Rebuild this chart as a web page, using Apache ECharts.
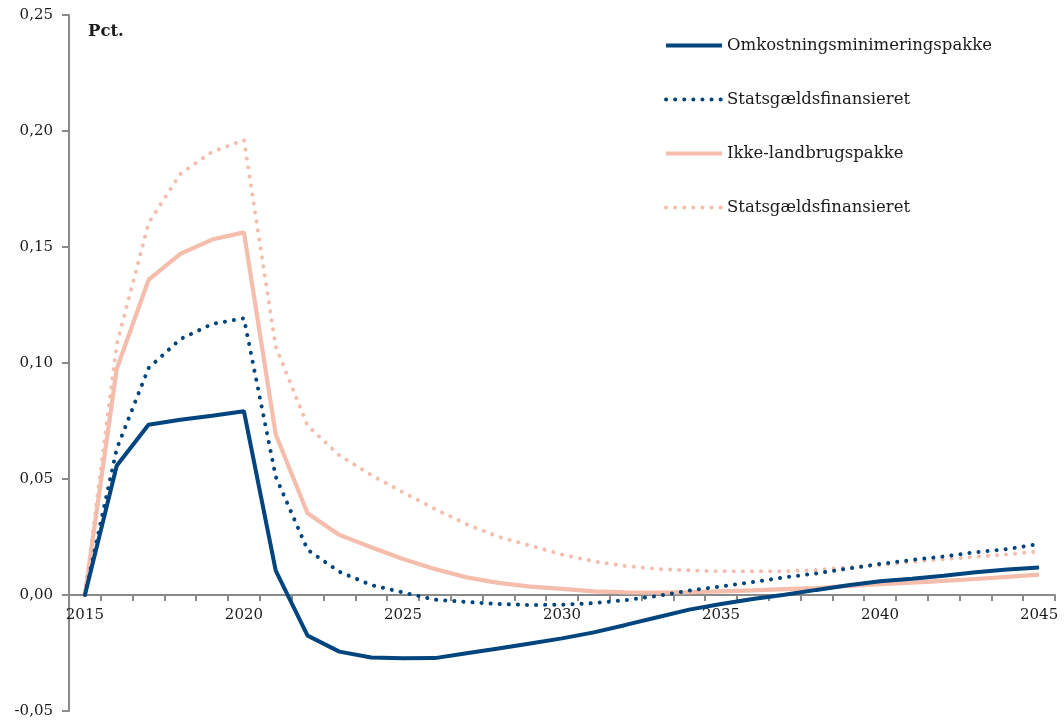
<!DOCTYPE html>
<html>
<head>
<meta charset="utf-8">
<script src="https://cdn.jsdelivr.net/npm/echarts@6/dist/echarts.min.js"></script>
<style>
  html, body { margin: 0; padding: 0; background: #ffffff; }
  #chart { width: 1064px; height: 724px; }
</style>
</head>
<body>
<div id="chart"></div>
<script>
// Years on the horizontal axis
const years = ['2015','2016','2017','2018','2019','2020','2021','2022','2023','2024',
  '2025','2026','2027','2028','2029','2030','2031','2032','2033','2034',
  '2035','2036','2037','2038','2039','2040','2041','2042','2043','2044','2045'];

// Omkostningsminimeringspakke (pct.)
const omkostning = [0, 0.0557, 0.0734, 0.0755, 0.0773, 0.0792, 0.0105, -0.0175, -0.0244, -0.0269,
  -0.0273, -0.0272, -0.0251, -0.0231, -0.0209, -0.0187, -0.0161, -0.0129, -0.0096, -0.0063,
  -0.0039, -0.0017, 0.0001, 0.0022, 0.0042, 0.0059, 0.0070, 0.0083, 0.0098, 0.0110, 0.0119];

// Omkostningsminimeringspakke, statsgældsfinansieret
const omkostningGaeld = [0, 0.063, 0.0978, 0.1103, 0.1168, 0.1193, 0.051, 0.0195, 0.0100, 0.0043,
  0.0011, -0.0020, -0.0030, -0.0039, -0.0043, -0.0042, -0.0035, -0.0022, -0.0004, 0.0019,
  0.0037, 0.0056, 0.0076, 0.0093, 0.0114, 0.0134, 0.0151, 0.0166, 0.0184, 0.0198, 0.0220];

// Ikke-landbrugspakke
const ikkeLandbrug = [0, 0.0974, 0.1358, 0.147, 0.1532, 0.1563, 0.0692, 0.0352, 0.0259, 0.0206,
  0.0155, 0.0112, 0.0076, 0.0052, 0.0036, 0.0026, 0.0016, 0.0011, 0.0010, 0.0012,
  0.0016, 0.0020, 0.0025, 0.0030, 0.0039, 0.0047, 0.0053, 0.0061, 0.0069, 0.0078, 0.0088];

// Ikke-landbrugspakke, statsgældsfinansieret
const ikkeLandbrugGaeld = [0, 0.108, 0.1603, 0.1815, 0.191, 0.1961, 0.107, 0.073, 0.0602, 0.0517,
  0.0443, 0.0371, 0.0305, 0.0251, 0.0213, 0.0174, 0.0145, 0.0125, 0.0112, 0.0106,
  0.0102, 0.0102, 0.0102, 0.0108, 0.0119, 0.0129, 0.0143, 0.0154, 0.0165, 0.0175, 0.0188];

// Value axis range
const yMin = -0.05, yMax = 0.25, yStep = 0.05;

// Legend texts (series keys are unique, two entries share the same visible label)
const seriesKeys = ['omk', 'omkGaeld', 'ikke', 'ikkeGaeld'];
const legendLabels = {
  omk: 'Omkostningsminimeringspakke',
  omkGaeld: 'Statsgældsfinansieret',
  ikke: 'Ikke-landbrugspakke',
  ikkeGaeld: 'Statsgældsfinansieret'
};

const BLUE = '#00457e';
const SALMON = '#f5bdab';
const AXIS = '#8a8a8a';
const TEXT = '#1a1a1a';
const FONT = '"DejaVu Serif", "Liberation Serif", serif';
const dotted = { type: [0.1, 9], cap: 'round', width: 4 };

const W = 1064, H = 724;
const GRID = { left: 69, right: 9, top: 15, bottom: 13 };
// Category axis sits on the zero line: shift it up from the grid's bottom edge
const plotH = H - GRID.top - GRID.bottom;
const zeroOffset = -plotH * (0 - yMin) / (yMax - yMin);

const chart = echarts.init(document.getElementById('chart'), null, { renderer: 'canvas', width: W, height: H });

chart.setOption({
  animation: false,
  backgroundColor: '#ffffff',
  textStyle: { fontFamily: FONT, color: TEXT },
  title: {
    text: 'Pct.',
    left: 83,
    top: 18,
    textStyle: { fontFamily: FONT, fontSize: 16.5, fontWeight: 'bold', color: TEXT }
  },
  grid: Object.assign({ containLabel: false, outerBoundsMode: 'none' }, GRID),
  legend: {
    orient: 'vertical',
    left: 659,
    top: 32,
    itemWidth: 56,
    itemHeight: 14,
    itemGap: 37,
    data: seriesKeys,
    formatter: (name) => legendLabels[name],
    selectedMode: false,
    itemStyle: { opacity: 0 },
    lineStyle: { width: 4 },
    textStyle: { fontFamily: FONT, fontSize: 16.5, lineHeight: 14, color: TEXT }
  },
  xAxis: {
    type: 'category',
    data: years,
    boundaryGap: true,
    offset: zeroOffset,
    axisLine: { onZero: false, lineStyle: { color: AXIS, width: 2 } },
    axisTick: { show: true, interval: 0, length: 6, lineStyle: { color: AXIS, width: 2 } },
    axisLabel: {
      interval: 4,
      margin: 13,
      fontFamily: FONT,
      fontSize: 15,
      color: TEXT
    },
    splitLine: { show: false }
  },
  yAxis: {
    type: 'value',
    min: yMin,
    max: yMax,
    interval: yStep,
    axisLine: { show: true, onZero: false, lineStyle: { color: AXIS, width: 2 } },
    axisTick: { show: true, length: 7, lineStyle: { color: AXIS, width: 2 } },
    axisLabel: {
      margin: 16,
      fontFamily: FONT,
      fontSize: 15,
      color: TEXT,
      formatter: (v) => v.toFixed(2).replace('.', ',')
    },
    splitLine: { show: false }
  },
  series: [
    {
      name: 'ikkeGaeld', type: 'line', data: ikkeLandbrugGaeld, symbol: 'none',
      lineStyle: Object.assign({ color: SALMON }, dotted), itemStyle: { color: SALMON }, z: 2
    },
    {
      name: 'ikke', type: 'line', data: ikkeLandbrug, symbol: 'none',
      lineStyle: { color: SALMON, width: 4.2 }, itemStyle: { color: SALMON }, z: 3
    },
    {
      name: 'omkGaeld', type: 'line', data: omkostningGaeld, symbol: 'none',
      lineStyle: Object.assign({ color: BLUE }, dotted), itemStyle: { color: BLUE }, z: 4
    },
    {
      name: 'omk', type: 'line', data: omkostning, symbol: 'none',
      lineStyle: { color: BLUE, width: 4 }, itemStyle: { color: BLUE }, z: 5
    }
  ]
});
</script>
</body>
</html>
